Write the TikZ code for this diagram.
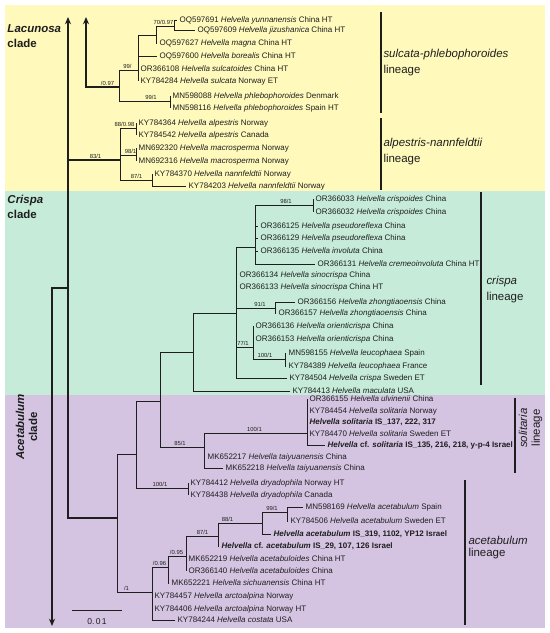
\documentclass[tikz,border=0pt]{standalone}
\usepackage{fontspec}
\setmainfont{Liberation Sans}
\usetikzlibrary{arrows.meta}
\definecolor{ybg}{RGB}{255,250,187}
\definecolor{gbg}{RGB}{198,236,217}
\definecolor{pbg}{RGB}{212,196,226}
\definecolor{ink}{RGB}{30,30,30}
\newcommand\Hv[1]{\textit{Helvella #1}}
\begin{document}
\begin{tikzpicture}[x=0.75pt,y=-0.75pt,line width=0.75pt,draw=ink,
  leaf/.style={anchor=west,inner xsep=1.6pt,inner ysep=0pt,text height=4.4pt,text depth=1pt,font=\fontsize{6}{7}\selectfont,text=ink},
  bs/.style={anchor=south,inner sep=0.4pt,font=\fontsize{4.4}{5}\selectfont,text=ink},
  lin/.style={anchor=west,inner sep=0pt,font=\fontsize{8.6}{10}\selectfont,text=ink},
  cla/.style={anchor=west,inner sep=0pt,font=\fontsize{8.6}{10}\selectfont\bfseries,text=ink},
  bar/.style={draw=ink,line width=0.8pt},
  arr/.style={draw=ink,line width=0.9pt,-{Stealth[length=5.5pt,width=4.6pt]}}]
\useasboundingbox (0,0) rectangle (550,633);
\fill[white] (0,0) rectangle (550,633);
\fill[ybg] (5,5) rectangle (545,191);
\fill[gbg] (5,191) rectangle (545,395);
\fill[pbg] (5,395) rectangle (545,628);

% ---------- internal nodes ----------
\coordinate (nA) at (174,26);
\coordinate (nB) at (156,35);
\coordinate (nC) at (138,70);
\coordinate (nD) at (119,87);
\coordinate (nE) at (170,101);
\coordinate (nF) at (136,128);
\coordinate (nG) at (136,155);
\coordinate (nH) at (152,180);
\coordinate (nI) at (120,160);
\coordinate (nJ) at (313,205);
\coordinate (nK) at (255,247);
\coordinate (nM) at (275,308);
\coordinate (nN) at (285,359);
\coordinate (nO) at (253,347);
\coordinate (nL) at (236,313);
\coordinate (nP) at (193,352);
\coordinate (nQ) at (160,401);
\coordinate (nT) at (307,433);
\coordinate (nR) at (204,447);
\coordinate (nU) at (188,488);
\coordinate (nS) at (136,454);
\coordinate (nV) at (117,518);
\coordinate (nW) at (152,592);
\coordinate (nX) at (168,567);
\coordinate (nY) at (186,556);
\coordinate (nZ) at (218,536);
\coordinate (n88) at (262,523);
\coordinate (n99) at (287,512);
\coordinate (t1) at (68,17);
\coordinate (t2) at (86,17);
\coordinate (j160) at (68,160);
\coordinate (j288) at (68,288);
\coordinate (d1) at (52,626);

% ---------- leaves ----------
\node[leaf] (l1) at (177,20) {OQ597691 \Hv{yunnanensis} China HT};
\node[leaf] (l2) at (195,30) {OQ597609 \Hv{jizushanica} China HT};
\node[leaf] (l3) at (157,43) {OQ597627 \Hv{magna} China HT};
\node[leaf] (l4) at (157,56) {OQ597600 \Hv{borealis} China HT};
\node[leaf] (l5) at (138,69) {OR366108 \Hv{sulcatoides} China HT};
\node[leaf] (l6) at (138,81) {KY784284 \Hv{sulcata} Norway ET};
\node[leaf] (l7) at (170,96) {MN598088 \Hv{phlebophoroides} Denmark};
\node[leaf] (l8) at (170,108) {MN598116 \Hv{phlebophoroides} Spain HT};
\node[leaf] (l9) at (136,123) {KY784364 \Hv{alpestris} Norway};
\node[leaf] (l10) at (136,135) {KY784542 \Hv{alpestris} Canada};
\node[leaf] (l11) at (136,148) {MN692320 \Hv{macrosperma} Norway};
\node[leaf] (l12) at (136,161) {MN692316 \Hv{macrosperma} Norway};
\node[leaf] (l13) at (152,174) {KY784370 \Hv{nannfeldtii} Norway};
\node[leaf] (l14) at (186,186) {KY784203 \Hv{nannfeldtii} Norway};
\node[leaf] (l15) at (313,199) {OR366033 \Hv{crispoides} China};
\node[leaf] (l16) at (313,212) {OR366032 \Hv{crispoides} China};
\node[leaf] (l17) at (258,226) {OR366125 \Hv{pseudoreflexa} China};
\node[leaf] (l18) at (258,238) {OR366129 \Hv{pseudoreflexa} China};
\node[leaf] (l19) at (258,251) {OR366135 \Hv{involuta} China};
\node[leaf] (l20) at (315,264) {OR366131 \Hv{cremeoinvoluta} China HT};
\node[leaf] (l21) at (237,275) {OR366134 \Hv{sinocrispa} China};
\node[leaf] (l22) at (237,287) {OR366133 \Hv{sinocrispa} China HT};
\node[leaf] (l23) at (295,302) {OR366156 \Hv{zhongtiaoensis} China};
\node[leaf] (l24) at (276,313) {OR366157 \Hv{zhongtiaoensis} China};
\node[leaf] (l25) at (253,326) {OR366136 \Hv{orienticrispa} China};
\node[leaf] (l26) at (253,339) {OR366153 \Hv{orienticrispa} China};
\node[leaf] (l27) at (286,353) {MN598155 \Hv{leucophaea} Spain};
\node[leaf] (l28) at (286,366) {KY784389 \Hv{leucophaea} France};
\node[leaf] (l29) at (287,378) {KY784504 \Hv{crispa} Sweden ET};
\node[leaf] (l30) at (290,391) {KY784413 \Hv{maculata} USA};
\node[leaf] (l31) at (307,399) {OR366155 \Hv{ulvinenii} China};
\node[leaf] (l32) at (307,411) {KY784454 \Hv{solitaria} Norway};
\node[leaf] (l33) at (307,422) {\bfseries\Hv{solitaria} IS\_137, 222, 317};
\node[leaf] (l34) at (307,434) {KY784470 \Hv{solitaria} Sweden ET};
\node[leaf] (l35) at (325,445) {\bfseries\textit{Helvella} cf. \textit{solitaria} IS\_135, 216, 218, y-p-4 Israel};
\node[leaf] (l36) at (205,457) {MK652217 \Hv{taiyuanensis} China};
\node[leaf] (l37) at (223,468) {MK652218 \Hv{taiyuanensis} China};
\node[leaf] (l38) at (188,483) {KY784412 \Hv{dryadophila} Norway HT};
\node[leaf] (l39) at (188,495) {KY784438 \Hv{dryadophila} Canada};
\node[leaf] (l40) at (303,507) {MN598169 \Hv{acetabulum} Spain};
\node[leaf] (l41) at (288,521) {KY784506 \Hv{acetabulum} Sweden ET};
\node[leaf] (l42) at (271,534) {\bfseries\Hv{acetabulum} IS\_319, 1102, YP12 Israel};
\node[leaf] (l43) at (219,546) {\bfseries\textit{Helvella} cf. \textit{acetabulum} IS\_29, 107, 126 Israel};
\node[leaf] (l44) at (186,559) {MK652219 \Hv{acetabuloides} China HT};
\node[leaf] (l45) at (186,571) {OR366140 \Hv{acetabuloides} China};
\node[leaf] (l46) at (169,583) {MK652221 \Hv{sichuanensis} China HT};
\node[leaf] (l47) at (152,596) {KY784457 \Hv{arctoalpina} Norway};
\node[leaf] (l48) at (152,609) {KY784406 \Hv{arctoalpina} Norway HT};
\node[leaf] (l49) at (175,620) {KY784244 \Hv{costata} USA};

% ---------- branches ----------
\draw (nA) |- (l1.west) (nA) |- (l2.west);
\draw (nB) |- (nA) (nB) |- (l3.west);
\draw (nC) |- (nB) (nC) |- (l4.west) (nC) |- (l5.west) (nC) |- (l6.west);
\draw (nE) |- (l7.west) (nE) |- (l8.west);
\draw (nD) |- (nC) (nD) |- (nE);
\draw (nF) |- (l9.west) (nF) |- (l10.west);
\draw (nG) |- (l11.west) (nG) |- (l12.west);
\draw (nH) |- (l13.west) (nH) |- (l14.west);
\draw (nI) |- (nF) (nI) |- (nG) (nI) |- (nH);
\draw (nJ) |- (l15.west) (nJ) |- (l16.west);
\draw (nK) |- (nJ) (nK) |- (l17.west) (nK) |- (l18.west) (nK) |- (l19.west) (nK) |- (l20.west);
\draw (nM) |- (l23.west) (nM) |- (l24.west);
\draw (nN) |- (l27.west) (nN) |- (l28.west);
\draw (nO) |- (l25.west) (nO) |- (l26.west) (nO) |- (nN);
\draw (nL) |- (nK) (nL) |- (l21.west) (nL) |- (l22.west) (nL) |- (nM) (nL) |- (nO) (nL) |- (l29.west);
\draw (nP) |- (nL) (nP) |- (l30.west);
\draw (nQ) |- (nP) (nQ) |- (nR);
\draw (nT) |- (l31.west) (nT) |- (l32.west) (nT) |- (l33.west) (nT) |- (l34.west) (nT) |- (l35.west);
\draw (nR) |- (nT) (nR) |- (l36.west) (nR) |- (l37.west);
\draw (nU) |- (l38.west) (nU) |- (l39.west);
\draw (nS) |- (nQ) (nS) |- (nU);
\draw (n99) |- (l40.west) (n99) |- (l41.west);
\draw (n88) |- (n99) (n88) |- (l42.west);
\draw (nZ) |- (n88) (nZ) |- (l43.west);
\draw (nY) |- (nZ) (nY) |- (l44.west) (nY) |- (l45.west);
\draw (nX) |- (nY) (nX) |- (l46.west);
\draw (nW) |- (nX) (nW) |- (l47.west) (nW) |- (l48.west) (nW) |- (l49.west);
\draw (nV) |- (nS) (nV) |- (nW);
\draw[arr] (nV) -| (t1);
\draw[line width=0.9pt] (nI) -- (j160);
\draw[arr] (j288) -| (d1);
\draw[arr] (nD) -| (t2);

% ---------- support values ----------
\node[bs] (s1) at (163.5,26) {70/0.97};
\node[bs] (s2) at (127.5,70) {99/};
\node[bs] (s3) at (107.5,87) {/0.97};
\node[bs] (s4) at (151,101) {99/1};
\node[bs] (s5) at (124.5,128) {88/0.98};
\node[bs] (s6) at (130.5,155) {98/1};
\node[bs] (s7) at (136.5,180) {87/1};
\node[bs] (s8) at (95.5,160) {83/1};
\node[bs] (s9) at (286,205) {98/1};
\node[bs] (s10) at (260,308) {91/1};
\node[bs] (s11) at (243,347) {77/1};
\node[bs] (s12) at (265,359) {100/1};
\node[bs] (s13) at (254.5,433) {100/1};
\node[bs] (s14) at (180,447) {85/1};
\node[bs] (s15) at (160,488) {100/1};
\node[bs] (s16) at (272,512) {99/1};
\node[bs] (s17) at (227.5,523) {88/1};
\node[bs] (s18) at (202.5,536) {87/1};
\node[bs] (s19) at (176.5,556) {/0.95};
\node[bs] (s20) at (159.5,567) {/0.96};
\node[bs] (s21) at (126.5,592) {/1};

% ---------- scale bar ----------
\coordinate (sb1) at (72,610);
\coordinate (sb2) at (122,610);
\draw (sb1) -- (sb2);
\node[font=\fontsize{6.4}{8}\selectfont,text=ink,inner sep=0pt] (sbt) at (97,622) {0.\,0\,1};

% ---------- lineage bars ----------
\coordinate (b1a) at (381,12); \coordinate (b1b) at (381,113);
\coordinate (b2a) at (381,118); \coordinate (b2b) at (381,190);
\coordinate (b3a) at (481,192); \coordinate (b3b) at (481,385);
\coordinate (b4a) at (515,398); \coordinate (b4b) at (515,473);
\coordinate (b5a) at (465,480); \coordinate (b5b) at (465,625);
\draw[bar] (b1a) -- (b1b);
\draw[bar] (b2a) -- (b2b);
\draw[bar] (b3a) -- (b3b);
\draw[bar] (b4a) -- (b4b);
\draw[bar] (b5a) -- (b5b);
\node[lin] (L1a) at (383,55) {\itshape sulcata-phlebophoroides};
\node[lin] (L1b) at (383,71) {lineage};
\node[lin] (L2a) at (383,144) {\itshape alpestris-nannfeldtii};
\node[lin] (L2b) at (383,160) {lineage};
\node[lin] (L3a) at (486,282) {\itshape crispa};
\node[lin] (L3b) at (486,298) {lineage};
\node[lin,anchor=center,rotate=90] (L4a) at (523,428) {\itshape solitaria};
\node[lin,anchor=center,rotate=90] (L4b) at (537,428) {lineage};
\node[lin] (L5a) at (468,540) {\itshape acetabulum};
\node[lin] (L5b) at (468,554) {lineage};

% ---------- clade labels ----------
\node[cla] (C1a) at (7,29) {\itshape Lacunosa};
\node[cla] (C1b) at (7,43) {clade};
\node[cla] (C2a) at (7,201) {\itshape Crispa};
\node[cla] (C2b) at (7,214) {clade};
\node[cla,anchor=center,rotate=90] (C3a) at (20,427) {\itshape Acetabulum};
\node[cla,anchor=center,rotate=90] (C3b) at (33,427) {clade};
\end{tikzpicture}
\end{document}
